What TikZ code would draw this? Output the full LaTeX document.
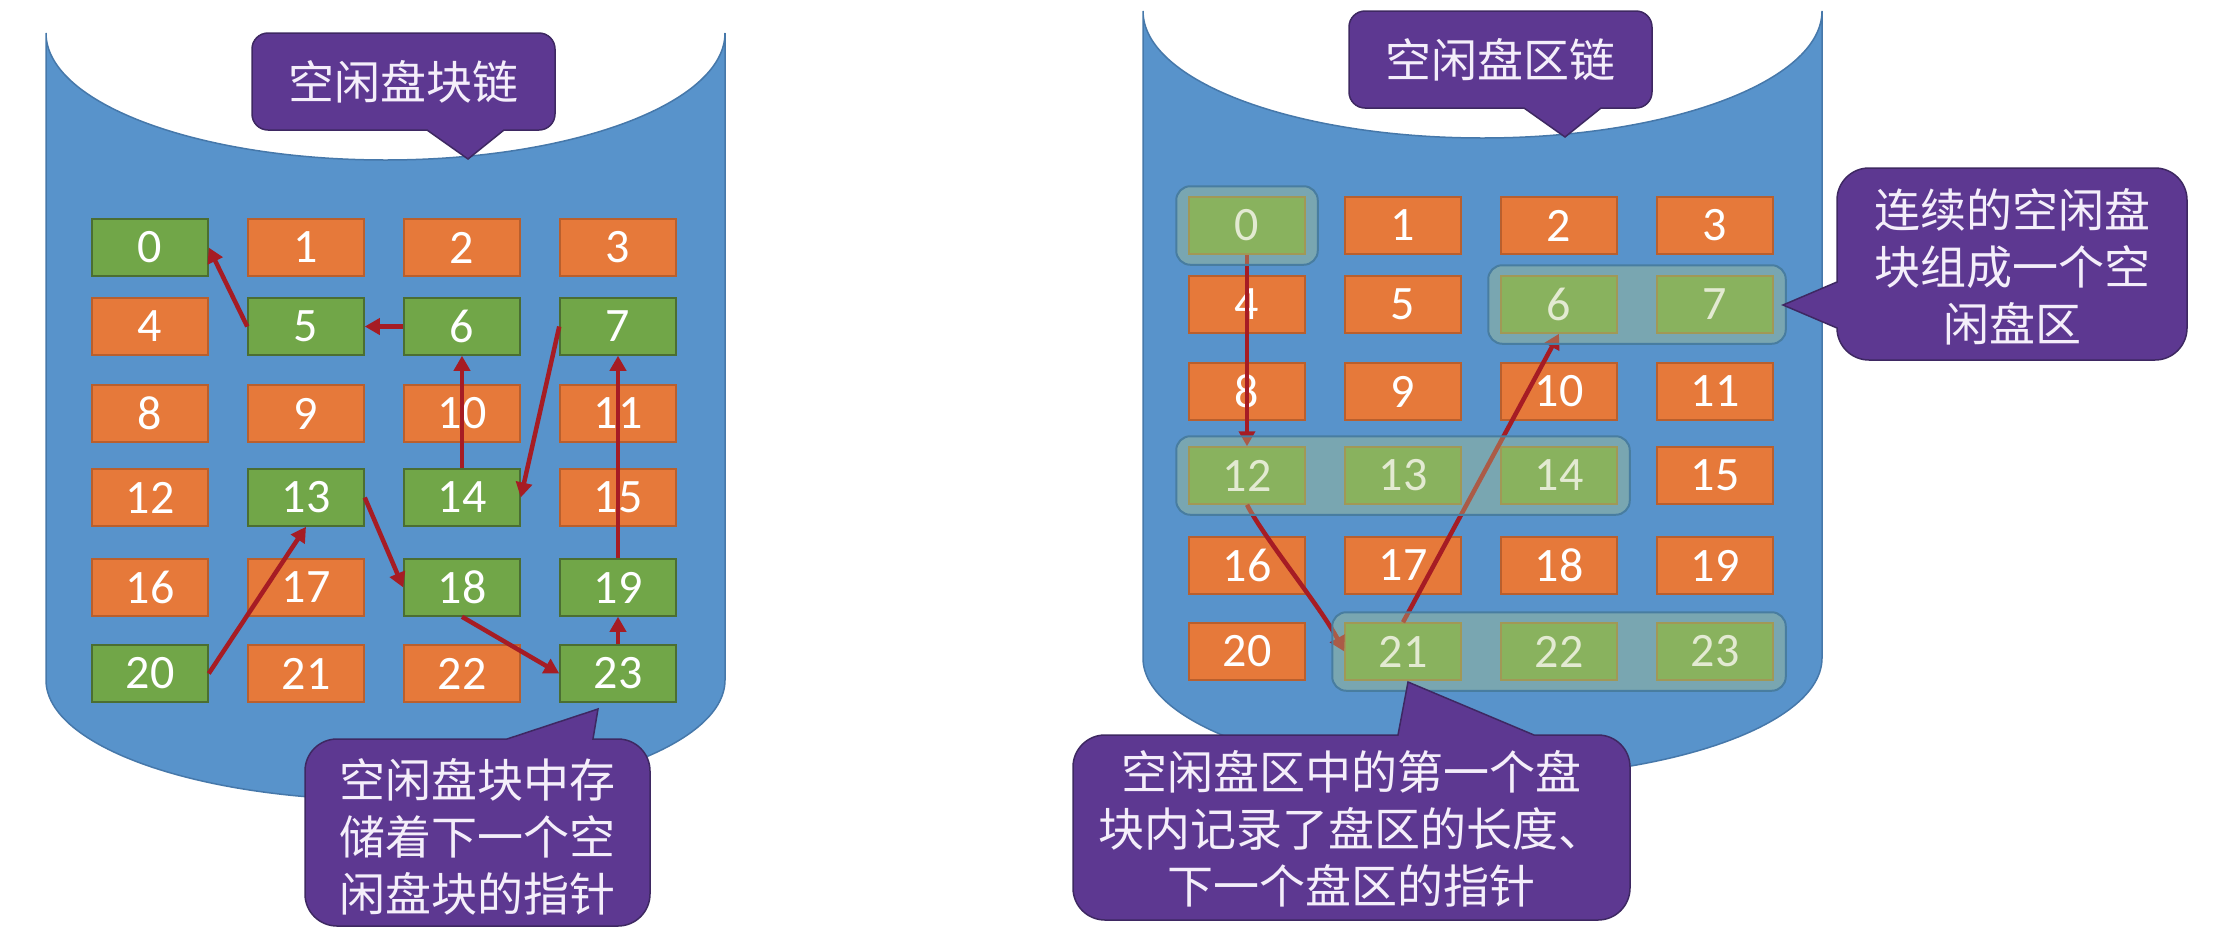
\documentclass[tikz,border=0pt]{standalone}
\usepackage{fontspec}
\setmainfont{Carlito}
\newfontfamily\cjkfont{Noto Sans CJK SC}
\usetikzlibrary{arrows.meta,fit}
\definecolor{cylblue}{RGB}{88,147,203}
\definecolor{cylline}{RGB}{70,120,170}
\definecolor{fillO}{RGB}{230,121,58}
\definecolor{lineO}{RGB}{185,95,45}
\definecolor{fillG}{RGB}{113,166,72}
\definecolor{lineG}{RGB}{75,110,50}
\definecolor{fillH}{RGB}{113,166,72}
\definecolor{lineH}{RGB}{150,125,60}
\definecolor{arrred}{RGB}{166,28,36}
\definecolor{callpurple}{RGB}{93,56,145}
\definecolor{callline}{RGB}{62,40,98}
\definecolor{calltext}{RGB}{244,238,250}
\definecolor{grpfill}{RGB}{180,200,133}
\definecolor{grpline}{RGB}{72,125,160}
\begin{document}
\begin{tikzpicture}[x=1pt, y=-1pt,
  box/.style={minimum width=116pt, minimum height=57pt, inner sep=0pt, line width=1.5pt,
    text=white, font=\fontsize{48}{48}\selectfont},
  arr/.style={draw=arrred, line width=4.5pt, -{Triangle[length=15pt,width=16pt]}},
  grp/.style={rounded corners=14pt, fill=grpfill, fill opacity=0.37, draw=grpline,
    line width=2pt, inner xsep=12pt, inner ysep=10pt},
  callout/.style={fill=callpurple, draw=callline, line width=1.5pt},
  ctext/.style={text=calltext, align=center, inner sep=0pt,
    font=\cjkfont\fontsize{46}{57}\selectfont},
  cyl/.style={fill=cylblue, draw=cylline, line width=1.5pt}]
\useasboundingbox (0,0) rectangle (2220,930);
\fill[white] (0,0) rectangle (2220,930);

% ---------- left cylinder ----------
\path[cyl] (46,33) -- (46,680) .. controls (46,746.3) and (198,800) .. (385.5,800)
  .. controls (573,800) and (725,746.3) .. (725,680) -- (725,33)
  .. controls (725,103.1) and (573,160) .. (385.5,160)
  .. controls (198,160) and (46,103.1) .. (46,33) -- cycle;
\path[callout] (268,33) -- (539,33) .. controls (547.84,33) and (555,40.16) .. (555,49)
  -- (555,114) .. controls (555,122.84) and (547.84,130) .. (539,130)
  -- (504,130) -- (468,159) -- (427,130) -- (268,130)
  .. controls (259.16,130) and (252,122.84) .. (252,114) -- (252,49)
  .. controls (252,40.16) and (259.16,33) .. (268,33) -- cycle;
\node[ctext] (tL) at (403.5,81.5) {空闲盘块链};

\foreach \i/\s in {0/G,1/O,2/O,3/O,4/O,5/G,6/G,7/G,8/O,9/O,10/O,11/O,12/O,13/G,14/G,15/O,16/O,17/O,18/G,19/G,20/G,21/O,22/O,23/G}{
  \pgfmathtruncatemacro\cc{mod(\i,4)}
  \pgfmathtruncatemacro\rr{div(\i,4)}
  \pgfmathsetmacro\xx{{150,306,462,618}[\cc]}
  \pgfmathsetmacro\yy{{247.5,326.5,413.5,497.5,587.5,673.5}[\rr]}
  \node[box, fill=fill\s, draw=line\s] (L\i) at (\xx,\yy) {\i};
}
\draw[arr] (L5.west) -- (L0.east);
\draw[arr] (L6.west) -- (L5.east);
\draw[arr] (L14.north) -- (L6.south);
\draw[arr] (L7.west) -- (L14.east);
\draw[arr] (L19.north) -- (L7.south);
\draw[arr] (L23.north) -- (L19.south);
\draw[arr] (L18.south) -- (L23.west);
\draw[arr] (L13.east) -- (L18.west);
\draw[arr] (L20.east) -- (L13.south);

\path[callout] (337,739) -- (507,739) -- (598,709) -- (593,739) -- (618,739)
  .. controls (635.67,739) and (650,753.33) .. (650,771) -- (650,894)
  .. controls (650,911.67) and (635.67,926) .. (618,926) -- (337,926)
  .. controls (319.33,926) and (305,911.67) .. (305,894) -- (305,771)
  .. controls (305,753.33) and (319.33,739) .. (337,739) -- cycle;
\node[ctext] (bL) at (477.5,837) {空闲盘块中存\\储着下一个空\\闲盘块的指针};

% ---------- right cylinder ----------
\begin{scope}[shift={(1097,-22)}]
\path[cyl] (46,33) -- (46,680) .. controls (46,746.3) and (198,800) .. (385.5,800)
  .. controls (573,800) and (725,746.3) .. (725,680) -- (725,33)
  .. controls (725,103.1) and (573,160) .. (385.5,160)
  .. controls (198,160) and (46,103.1) .. (46,33) -- cycle;
\path[callout] (268,33) -- (539,33) .. controls (547.84,33) and (555,40.16) .. (555,49)
  -- (555,114) .. controls (555,122.84) and (547.84,130) .. (539,130)
  -- (504,130) -- (468,159) -- (427,130) -- (268,130)
  .. controls (259.16,130) and (252,122.84) .. (252,114) -- (252,49)
  .. controls (252,40.16) and (259.16,33) .. (268,33) -- cycle;
\node[ctext] (tR) at (403.5,81.5) {空闲盘区链};
\foreach \i/\s in {0/H,1/O,2/O,3/O,4/O,5/O,6/H,7/H,8/O,9/O,10/O,11/O,12/H,13/H,14/H,15/O,16/O,17/O,18/O,19/O,20/O,21/H,22/H,23/H}{
  \pgfmathtruncatemacro\cc{mod(\i,4)}
  \pgfmathtruncatemacro\rr{div(\i,4)}
  \pgfmathsetmacro\xx{{150,306,462,618}[\cc]}
  \pgfmathsetmacro\yy{{247.5,326.5,413.5,497.5,587.5,673.5}[\rr]}
  \node[box, fill=fill\s, draw=line\s] (R\i) at (\xx,\yy) {\i};
}
\end{scope}
\draw[arr] (R0.south) -- (R12.north);
\draw[arr] (R12.south) .. controls (1264,538) and (1320,606) .. (R21.west);
\draw[arr] (R21.north) -- (R6.south);

\node[grp, fit=(R0)] (G0) {};
\node[grp, fit=(R6)(R7)] (G67) {};
\node[grp, fit=(R12)(R14)] (G1214) {};
\node[grp, fit=(R21)(R23)] (G2123) {};

\path[callout] (1869,168) -- (2155,168) .. controls (2172.67,168) and (2187,182.33) .. (2187,200)
  -- (2187,328) .. controls (2187,345.67) and (2172.67,360) .. (2155,360) -- (1869,360)
  .. controls (1851.33,360) and (1837,345.67) .. (1837,328)
  -- (1783,305) -- (1837,282) -- (1837,200)
  .. controls (1837,182.33) and (1851.33,168) .. (1869,168) -- cycle;
\node[ctext] (sR) at (2012,267) {连续的空闲盘\\块组成一个空\\闲盘区};

\path[callout] (1105,735) -- (1398,735) -- (1408,682) -- (1534,735) -- (1598,735)
  .. controls (1615.67,735) and (1630,749.33) .. (1630,767) -- (1630,888)
  .. controls (1630,905.67) and (1615.67,920) .. (1598,920) -- (1105,920)
  .. controls (1087.33,920) and (1073,905.67) .. (1073,888) -- (1073,767)
  .. controls (1073,749.33) and (1087.33,735) .. (1105,735) -- cycle;
\node[ctext] (bR) at (1351.5,829) {空闲盘区中的第一个盘\\块内记录了盘区的长度、\\下一个盘区的指针};
\end{tikzpicture}
\end{document}
